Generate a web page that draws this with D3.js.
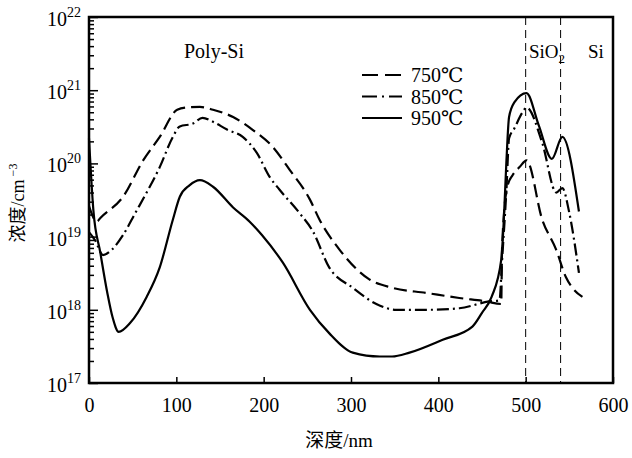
<!DOCTYPE html>
<html>
<head>
<meta charset="utf-8">
<script src="https://cdn.jsdelivr.net/npm/d3@7"></script>
<style>
  body { margin: 0; background: #fff; }
  svg { display: block; }
  text { font-family: "Liberation Serif", "Times New Roman", "DejaVu Serif", "Noto Sans CJK SC", serif; fill: #000; }
</style>
</head>
<body>
<div id="chart"></div>
<script>
// depth (nm) and concentration (cm^-3)
const depth750 = [0, 9, 13, 39, 62, 81, 101, 112, 127, 142, 165, 187, 210, 230, 253, 264, 287, 321, 347, 386, 424, 455, 472, 473, 479, 485, 493, 501, 519, 535, 546, 555, 565];
const conc750 = [2.6e19, 1.6e19, 1.8e19, 3.5e19, 1.1e20, 2.3e20, 5.4e20, 5.8e20, 5.9e20, 5.4e20, 4.3e20, 2.9e20, 1.7e20, 8.1e19, 3.2e19, 1.7e19, 6.6e18, 2.6e18, 2.0e18, 1.7e18, 1.45e18, 1.3e18, 1.2e18, 7.2e18, 4.8e19, 6.9e19, 8.9e19, 1.1e20, 1.7e19, 6.6e18, 2.8e18, 1.9e18, 1.5e18];

const depth850 = [0, 7, 16, 26, 39, 53, 66, 81, 96, 104, 119, 130, 142, 158, 176, 192, 207, 218, 241, 256, 275, 302, 329, 352, 386, 424, 458, 470, 473, 478, 481, 487, 496, 501, 519, 535, 542, 550, 561];
const conc850 = [1.15e19, 8.9e18, 5.6e18, 6.6e18, 1.05e19, 2.1e19, 4.0e19, 8.9e19, 2.3e20, 3.2e20, 3.5e20, 4.2e20, 3.7e20, 2.9e20, 2.3e20, 1.4e20, 6.5e19, 4.4e19, 2.1e19, 1.2e19, 3.8e18, 2.0e18, 1.2e18, 1.0e18, 1.0e18, 1.05e18, 1.3e18, 1.35e18, 4.8e18, 4.4e19, 2.2e20, 3.0e20, 4.9e20, 5.8e20, 1.9e20, 4.0e19, 4.6e19, 2.1e19, 3.2e18];

const depth950 = [0, 5, 13, 21, 27, 34, 47, 66, 81, 96, 104, 115, 127, 142, 165, 184, 198, 222, 253, 275, 302, 333, 347, 367, 405, 439, 450, 461, 472, 475, 478, 481, 487, 501, 515, 530, 542, 561];
const conc950 = [2.2e20, 2.3e19, 6.0e18, 1.7e18, 7.9e17, 5.0e17, 6.6e17, 1.5e18, 3.8e18, 1.7e19, 3.5e19, 5.0e19, 5.9e19, 4.8e19, 2.5e19, 1.6e19, 1.05e19, 4.4e18, 1.0e18, 4.8e17, 2.6e17, 2.3e17, 2.3e17, 2.6e17, 3.9e17, 5.9e17, 9.1e17, 1.5e18, 4.8e18, 1.7e19, 1.1e20, 4.3e20, 6.8e20, 9.1e20, 3.3e20, 1.15e20, 2.3e20, 2.2e19];

const seriesNames = ['750℃', '850℃', '950℃'];
const xTicks = [0, 100, 200, 300, 400, 500, 600];
const yExps = [17, 18, 19, 20, 21, 22];
const boundaries = [500, 540];

const width = 632, height = 458;
const svg = d3.select('#chart').append('svg').attr('width', width).attr('height', height);

const x = d3.scaleLinear().domain([0, 600]).range([89, 613]);
const y = d3.scaleLog().domain([1e17, 1e22]).range([383, 17]);

const dashes = ['13,6', '12,4,2,4', null];
const series = [
  { name: seriesNames[0], d: depth750, c: conc750 },
  { name: seriesNames[1], d: depth850, c: conc850 },
  { name: seriesNames[2], d: depth950, c: conc950 }
];

// layer boundaries
svg.append('g').selectAll('line').data(boundaries).enter().append('line')
  .attr('x1', d => x(d)).attr('x2', d => x(d))
  .attr('y1', y(1e22)).attr('y2', y(1e17))
  .attr('stroke', '#000').attr('stroke-width', 1)
  .attr('stroke-dasharray', '8,5');

const line = d3.line()
  .x(p => x(p[0])).y(p => y(p[1]))
  .curve(d3.curveMonotoneX);

svg.append('g').attr('fill', 'none')
  .selectAll('path').data(series).enter().append('path')
  .attr('d', s => line(s.d.map((v, i) => [v, s.c[i]])))
  .attr('stroke', '#000')
  .attr('stroke-width', 2.2)
  .attr('stroke-linejoin', 'round')
  .attr('stroke-dasharray', (s, i) => dashes[i]);

// y axis ticks (inside)
const minors = [];
for (let e = 17; e < 22; e++) for (let m = 2; m <= 9; m++) minors.push(m * Math.pow(10, e));
svg.append('g').attr('transform', `translate(${x(0)},0)`)
  .call(d3.axisLeft(y).tickValues(minors).tickSize(-5).tickFormat(''))
  .call(g => g.select('.domain').remove())
  .selectAll('line').attr('stroke-width', 1.5);
svg.append('g').attr('transform', `translate(${x(0)},0)`)
  .call(d3.axisLeft(y).tickValues(yExps.map(e => Math.pow(10, e))).tickSize(-9).tickFormat(''))
  .call(g => g.select('.domain').remove())
  .selectAll('line').attr('stroke-width', 1.5);

// x axis ticks (inside) + labels
const xa = svg.append('g').attr('transform', `translate(0,${y(1e17)})`)
  .call(d3.axisBottom(x).tickValues(xTicks).tickSize(-6).tickPadding(15));
xa.attr('font-family', null);
xa.select('.domain').remove();
xa.selectAll('line').attr('stroke-width', 1.5);
xa.selectAll('text').style('font-size', '20px').attr('fill', '#000');

// y labels 10^n
const yl = svg.append('g').selectAll('text').data(yExps).enter().append('text')
  .attr('x', 81).attr('y', d => y(Math.pow(10, d)) + 9)
  .attr('text-anchor', 'end')
  .style('font-size', '20px');
yl.append('tspan').text('10');
yl.append('tspan').attr('dy', -9).style('font-size', '14px').text(d => d);

// frame
svg.append('rect')
  .attr('x', x(0)).attr('y', y(1e22))
  .attr('width', x(600) - x(0)).attr('height', y(1e17) - y(1e22))
  .attr('fill', 'none').attr('stroke', '#000').attr('stroke-width', 2.5);

// axis titles
svg.append('text').attr('x', 339).attr('y', 447).attr('text-anchor', 'middle')
  .style('font-size', '19px').text('深度/nm');
const yt = svg.append('text').attr('transform', 'translate(24,203) rotate(-90)')
  .attr('text-anchor', 'middle').style('font-size', '18px');
yt.append('tspan').text('浓度/cm');
yt.append('tspan').attr('dy', -7).attr('dx', 3).style('font-size', '12px').text('−3');

// region labels
svg.append('text').attr('x', 214).attr('y', 58).attr('text-anchor', 'middle')
  .style('font-size', '20px').text('Poly-Si');
const so = svg.append('text').attr('x', 529).attr('y', 58).style('font-size', '19px');
so.append('tspan').text('SiO');
so.append('tspan').attr('dy', 5).style('font-size', '13px').text('2');
svg.append('text').attr('x', 588).attr('y', 58).style('font-size', '19px').text('Si');

// legend
const lg = svg.append('g').selectAll('g').data(series).enter().append('g')
  .attr('transform', (d, i) => `translate(362,${75 + i * 21.5})`);
lg.append('line').attr('x1', 0).attr('x2', 40)
  .attr('stroke', '#000').attr('stroke-width', 2.2)
  .attr('stroke-dasharray', (d, i) => i === 0 ? '16,7' : i === 1 ? '15,5,2,5' : null);
lg.append('text').attr('x', 49).attr('y', 7).style('font-size', '20px').text(d => d.name);
</script>
</body>
</html>
